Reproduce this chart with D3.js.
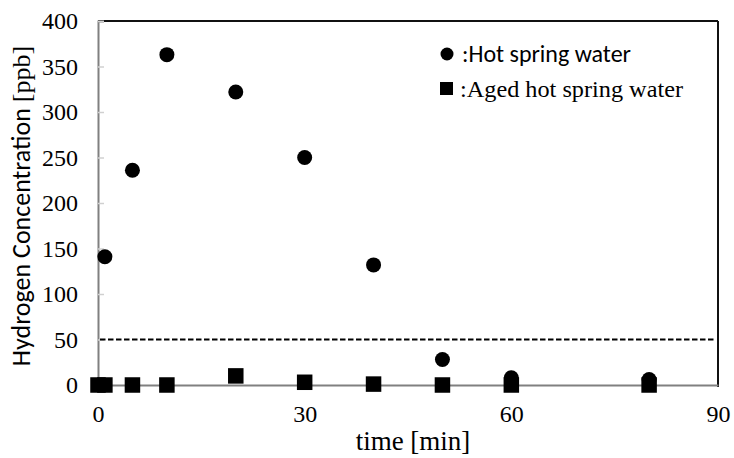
<!DOCTYPE html>
<html>
<head>
<meta charset="utf-8">
<script src="https://cdn.jsdelivr.net/npm/d3@7"></script>
<style>
  body { margin: 0; background: #fff; }
  svg { display: block; }
</style>
</head>
<body>
<svg id="chart" width="734" height="458"></svg>
<script>
// hot spring water (circles)
const hotTime = [1, 5, 10, 20, 30, 40, 50, 60, 80];
const hotConc = [141, 236, 363, 322, 250, 132, 28, 8, 6];
// aged hot spring water (squares)
const agedTime = [0, 1, 5, 10, 20, 30, 40, 50, 60, 80];
const agedConc = [0, 0, 0, 0, 10, 3, 1, 0, 0, 0];
const xTicks = [0, 30, 60, 90];
const yTicks = [0, 50, 100, 150, 200, 250, 300, 350, 400];
const threshold = 50;

const margin = { top: 21, right: 16, bottom: 73, left: 98 };
const width = 734 - margin.left - margin.right;
const height = 458 - margin.top - margin.bottom;

const SERIF = "Liberation Serif";
const SANS = "Carlito";

const svg = d3.select("#chart");
const g = svg.append("g").attr("transform", `translate(${margin.left}, ${margin.top})`);

const x = d3.scaleLinear().domain([0, 90]).range([0, width]);
const y = d3.scaleLinear().domain([0, 400]).range([height, 0]);

// top and right frame
g.append("line").attr("x1", 0).attr("x2", width).attr("y1", 0).attr("y2", 0)
    .attr("stroke", "#111").attr("stroke-width", 2);
g.append("line").attr("x1", width).attr("x2", width).attr("y1", 0).attr("y2", height + 2)
    .attr("stroke", "#111").attr("stroke-width", 2);

// y axis
const yAxis = g.append("g")
    .call(d3.axisLeft(y).tickValues(yTicks).tickSize(-6).tickPadding(20));
yAxis.select(".domain").attr("stroke", "#808080").attr("stroke-width", 2);
yAxis.selectAll(".tick line").attr("stroke", "#d0d0d0").attr("stroke-width", 1.5);
yAxis.selectAll("text")
    .attr("font-family", SERIF).attr("font-size", 24).attr("fill", "#000");

// x axis
const xAxis = g.append("g")
    .attr("transform", `translate(0, ${height})`)
    .call(d3.axisBottom(x).tickValues(xTicks).tickSize(0).tickPadding(20));
xAxis.select(".domain").attr("stroke", "#808080").attr("stroke-width", 2);
xAxis.selectAll("text")
    .attr("font-family", SERIF).attr("font-size", 24).attr("fill", "#000");

// 50 ppb dashed reference line
g.append("line")
    .attr("x1", x(0) + 2).attr("x2", x(90) - 2)
    .attr("y1", y(threshold)).attr("y2", y(threshold))
    .attr("stroke", "#000").attr("stroke-width", 2)
    .attr("stroke-dasharray", "5.5,2.5");

// aged squares
const sq = 15.5;
g.selectAll("rect.aged")
    .data(agedTime.map((t, i) => ({ t, v: agedConc[i] })))
    .join("rect")
    .attr("class", "aged")
    .attr("x", d => x(d.t) - sq / 2)
    .attr("y", d => y(d.v) - sq / 2)
    .attr("width", sq).attr("height", sq)
    .attr("fill", "#000");

// hot spring circles
g.selectAll("circle.hot")
    .data(hotTime.map((t, i) => ({ t, v: hotConc[i] })))
    .join("circle")
    .attr("class", "hot")
    .attr("cx", d => x(d.t))
    .attr("cy", d => y(d.v))
    .attr("r", 7.5)
    .attr("fill", "#000");

// legend
const legend = svg.append("g");
legend.append("circle").attr("cx", 447).attr("cy", 54).attr("r", 6.5).attr("fill", "#000");
legend.append("text").attr("x", 462).attr("y", 62)
    .attr("font-family", SANS).attr("font-size", 24)
    .text(":Hot spring water");
legend.append("rect").attr("x", 440).attr("y", 82).attr("width", 13).attr("height", 13).attr("fill", "#000");
legend.append("text").attr("x", 460).attr("y", 97)
    .attr("font-family", SERIF).attr("font-size", 23)
    .attr("textLength", 223).attr("lengthAdjust", "spacingAndGlyphs")
    .text(":Aged hot spring water");

// axis titles
svg.append("text")
    .attr("x", 413).attr("y", 450)
    .attr("text-anchor", "middle")
    .attr("font-family", SERIF).attr("font-size", 27)
    .text("time [min]");

const yLab = svg.append("text")
    .attr("transform", `translate(30, 206) rotate(-90)`)
    .attr("text-anchor", "middle");
yLab.append("tspan").attr("font-family", SANS).attr("font-size", 26).text("Hydrogen Concentration ");
yLab.append("tspan").attr("font-family", SERIF).attr("font-size", 26).text("[ppb]");
</script>
</body>
</html>
